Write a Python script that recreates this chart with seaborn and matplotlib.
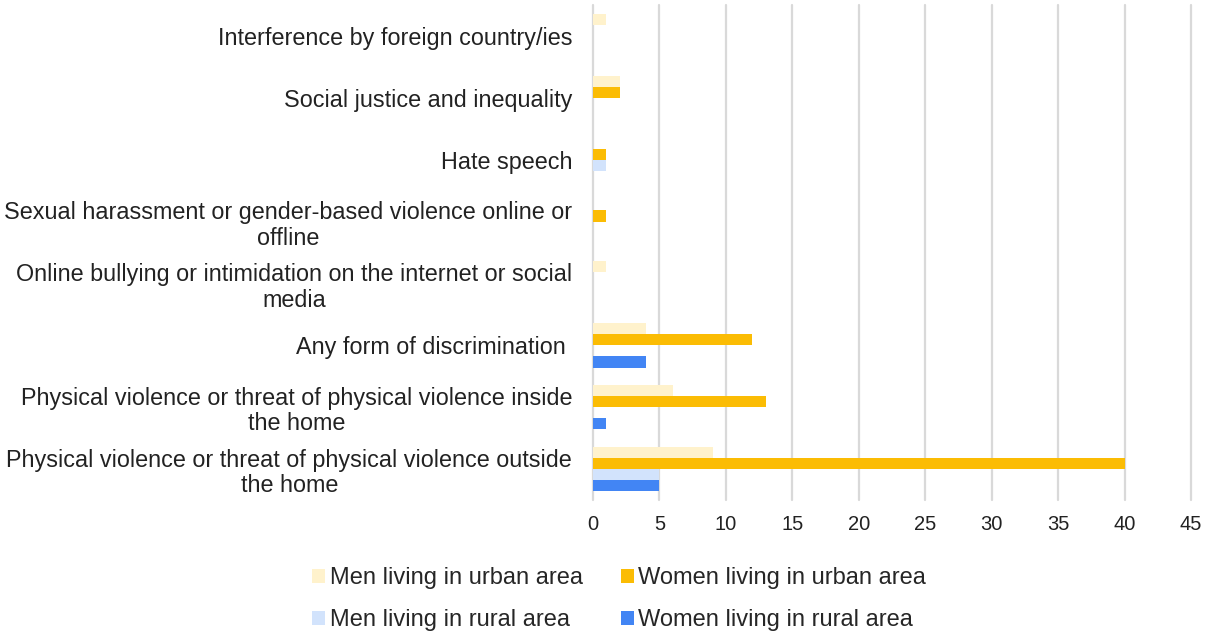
import matplotlib
matplotlib.use("Agg")
import matplotlib.pyplot as plt
from matplotlib.patches import Patch
import seaborn as sns
import pandas as pd

categories = [
    "Interference by foreign country/ies",
    "Social justice and inequality",
    "Hate speech",
    "Sexual harassment or gender-based violence online or\noffline",
    "Online bullying or intimidation on the internet or social\nmedia",
    "Any form of discrimination ",
    "Physical violence or threat of physical violence inside\nthe home",
    "Physical violence or threat of physical violence outside\nthe home",
]
series = [
    "Men living in urban area",
    "Women living in urban area",
    "Men living in rural area",
    "Women living in rural area",
]
men_urban = [1, 2, 0, 0, 1, 4, 6, 9]
women_urban = [0, 2, 1, 1, 0, 12, 13, 40]
men_rural = [0, 0, 1, 0, 0, 0, 0, 5]
women_rural = [0, 0, 0, 0, 0, 4, 1, 5]
x_ticks = [0, 5, 10, 15, 20, 25, 30, 35, 40, 45]

colors = ["#FFF2CC", "#FBBC04", "#D2E3FC", "#4285F4"]

rows = []
for name, vals in zip(series, [men_urban, women_urban, men_rural, women_rural]):
    for cat, v in zip(categories, vals):
        rows.append({"category": cat, "group": name, "value": v})
df = pd.DataFrame(rows)

sns.set_theme(style="white")
plt.rcParams["font.family"] = ["Liberation Sans", "DejaVu Sans"]

fig = plt.figure(figsize=(12.12, 6.33), dpi=100)
ax = fig.add_axes([593 / 1212, 1 - 500 / 633, (1191 - 593) / 1212, (500 - 5) / 633])

sns.barplot(
    data=df, y="category", x="value", hue="group",
    order=categories, hue_order=series, palette=colors,
    orient="h", width=0.72, saturation=1, legend=False, ax=ax,
    linewidth=0,
)

ax.set_xlim(0, 45)
ax.set_xticks(x_ticks)
ax.set_xlabel("")
ax.set_ylabel("")
ax.grid(axis="x", color="#D9D9D9", linewidth=1.6)
ax.set_axisbelow(True)
for gl in ax.get_xgridlines():
    gl.set_clip_on(False)
for s in ["top", "right", "bottom", "left"]:
    ax.spines[s].set_visible(False)
ax.tick_params(axis="y", length=0, pad=15, labelsize=16.8, colors="#222222")
ax.tick_params(axis="x", length=0, pad=11, labelsize=14.5, colors="#222222")
for lab in ax.get_yticklabels():
    lab.set_multialignment("center")
    lab.set_linespacing(1.15)

# legend filled row by row: urban pair on top, rural pair below
order = [0, 2, 1, 3]
handles = [Patch(facecolor=colors[i], edgecolor="none") for i in order]
labels = [series[i] for i in order]
fig.legend(
    handles, labels, loc="lower center", bbox_to_anchor=(0.511, -0.031), ncol=2,
    frameon=False, fontsize=17, handlelength=0.55, handleheight=0.55,
    handletextpad=0.2, columnspacing=1.6, labelspacing=0.85,
)

fig.savefig("out.png", dpi=100, facecolor="white")
